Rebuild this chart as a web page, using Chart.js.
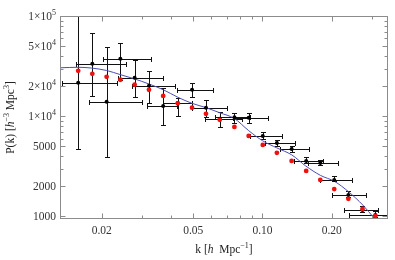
<!DOCTYPE html>
<html lang="en">
<head>
<meta charset="UTF-8">
<title>P(k)</title>
<script src="https://cdn.jsdelivr.net/npm/chart.js@4.4.1/dist/chart.umd.min.js"></script>
<style>
    body { margin: 0; background: #fff; }
</style>
</head>
<body>
<canvas id="myChart" width="395" height="260"></canvas>
<script>
    // bin centres, k in h/Mpc
    var kBins = [0.0158, 0.0182, 0.0210, 0.0241, 0.0278, 0.0321, 0.0370, 0.0428, 0.0494, 0.0568, 0.0652,
                 0.0755, 0.0871, 0.1003, 0.1155, 0.1339, 0.1549, 0.1784, 0.2051, 0.2363, 0.2722, 0.3097];
    // bin edges (horizontal error bars)
    var kLo = [0.01344, 0.01546, 0.01761, 0.02026, 0.02355, 0.02709, 0.03148, 0.03695, 0.04251, 0.0494, 0.05625,
               0.0622, 0.07448, 0.08827, 0.1026, 0.1192, 0.1371, 0.1578, 0.1779, 0.2006, 0.2262, 0.2378];
    var kHi = [0.02331, 0.02551, 0.02993, 0.03275, 0.03695, 0.04166, 0.04251, 0.0494, 0.06093, 0.0701, 0.08148,
               0.08827, 0.1057, 0.1216, 0.1385, 0.1593, 0.1833, 0.2130, 0.2451, 0.2820, 0.3180, 0.3478];

    // measured P(k) (black) with errors
    var pMeas = [21600, 33500, 14000, 37600, 24300, 20200, 12700, 13600, 18400, 12200, 9440,
                 9770, 9660, 6380, 5430, 4730, 3590, 3430, 2320, 1640, 1160, 1035];
    var pMeasHi = [130000, 68400, 49500, 54300, 36700, 28500, 19300, 15300, 21600, 14600, 11100,
                   10800, 10800, 7000, 5820, 5010, 3890, 3670, 2540, 1780, 1260, 1135];
    var pMeasLo = [4730, 16000, 3940, 23200, 15700, 13600, 8220, 10100, 15700, 9890, 7850,
                   8610, 8610, 5960, 5010, 4370, 3390, 3240, 2240, 1550, 1100, 995];

    // red points
    var pRed = [28500, 26600, 24800, 23200, 20700, 18400, 16000, 13500, 12200, 10600, 9230,
                7850, 6380, 5190, 4320, 3590, 2850, 2320, 1880, 1500, 1190, 1010];

    // model curve (blue)
    var kCurve = [0.0132, 0.0158, 0.0181, 0.0210, 0.0240, 0.0277, 0.0322, 0.0371, 0.0429, 0.0494, 0.0568, 0.0653,
                  0.0753, 0.0871, 0.1003, 0.1155, 0.1341, 0.1541, 0.1789, 0.2058, 0.2372, 0.2731, 0.3054, 0.3424];
    var pCurve = [30550, 30900, 30340, 28710, 26180, 23710, 20990, 18410, 15490, 13490, 12220, 10840,
                  9550, 7200, 5690, 4840, 4120, 3200, 2570, 2240, 1760, 1300, 966, 700];

    var xTickVals = [0.02, 0.05, 0.1, 0.2];
    var xTickLabels = ['0.02', '0.05', '0.10', '0.20'];
    var xMinorVals = [0.03, 0.04, 0.06, 0.07, 0.08, 0.09, 0.3];
    var yTickVals = [1000, 2000, 5000, 10000, 20000, 50000, 100000];
    // [mantissa, exponent] ; exponent '' means plain number
    var yTickLabels = [['1000', ''], ['2000', ''], ['5000', ''], ['1×10', '4'], ['2×10', '4'], ['5×10', '4'], ['1×10', '5']];
    var yMinorVals = [3000, 4000, 6000, 7000, 8000, 9000, 30000, 40000, 60000, 70000, 80000, 90000];

    var serif = "'Liberation Serif', 'DejaVu Serif', serif";

    function f_points(xs, ys) {
        var v_out = [];
        for (var i = 0; i < xs.length; i++) {
            v_out.push({ x: xs[i], y: ys[i] });
        }
        return v_out;
    }

    // rich text: parts = [{t, it, sup}]
    function f_font(p) {
        return (p.it ? 'italic ' : '') + (p.sup ? '8px ' : '11.5px ') + serif;
    }
    function f_richWidth(ctx, parts) {
        var w = 0;
        parts.forEach(function (p) { ctx.font = f_font(p); w += ctx.measureText(p.t).width; });
        return w;
    }
    function f_rich(ctx, parts, x, y, align) {
        var w = f_richWidth(ctx, parts);
        var cx = align === 'right' ? x - w : (align === 'center' ? x - w / 2 : x);
        ctx.textAlign = 'left';
        ctx.textBaseline = 'middle';
        parts.forEach(function (p) {
            ctx.font = f_font(p);
            ctx.fillText(p.t, cx, p.sup ? y - 4 : y);
            cx += ctx.measureText(p.t).width;
        });
    }

    // error bars under the points
    var errorBars = {
        id: 'errorBars',
        beforeDatasetsDraw: function (chart) {
            var ctx = chart.ctx;
            var xs = chart.scales.x;
            var ys = chart.scales.y;
            var a = chart.chartArea;
            var cap = 2.5;
            ctx.save();
            ctx.beginPath();
            ctx.rect(a.left, a.top, a.right - a.left, a.bottom - a.top);
            ctx.clip();
            ctx.strokeStyle = '#111';
            ctx.lineWidth = 1;
            ctx.beginPath();
            for (var i = 0; i < kBins.length; i++) {
                var px = Math.round(xs.getPixelForValue(kBins[i])) + 0.5;
                var py = Math.round(ys.getPixelForValue(pMeas[i])) + 0.5;
                var x1 = Math.round(xs.getPixelForValue(kLo[i])) + 0.5;
                var x2 = Math.round(xs.getPixelForValue(kHi[i])) + 0.5;
                var y1 = Math.round(ys.getPixelForValue(pMeasHi[i])) + 0.5;
                var y2 = Math.round(ys.getPixelForValue(pMeasLo[i])) + 0.5;
                // horizontal
                ctx.moveTo(x1, py); ctx.lineTo(x2, py);
                ctx.moveTo(x1, py - cap); ctx.lineTo(x1, py + cap);
                ctx.moveTo(x2, py - cap); ctx.lineTo(x2, py + cap);
                // vertical
                ctx.moveTo(px, y1); ctx.lineTo(px, y2);
                ctx.moveTo(px - cap, y1); ctx.lineTo(px + cap, y1);
                ctx.moveTo(px - cap, y2); ctx.lineTo(px + cap, y2);
            }
            ctx.stroke();
            ctx.restore();
        }
    };

    // frame with inward ticks on all four sides, y labels and axis titles
    var frameTicks = {
        id: 'frameTicks',
        afterDraw: function (chart) {
            var ctx = chart.ctx;
            var xs = chart.scales.x;
            var ys = chart.scales.y;
            var a = chart.chartArea;
            var L = Math.round(a.left) + 0.5, R = Math.round(a.right) - 0.5;
            var T = Math.round(a.top) + 0.5, B = Math.round(a.bottom) - 0.5;
            ctx.save();
            ctx.strokeStyle = '#8c8c8c';
            ctx.lineWidth = 1;
            ctx.strokeRect(L, T, R - L, B - T);
            ctx.beginPath();
            function xTick(v, len) {
                var p = Math.round(xs.getPixelForValue(v)) + 0.5;
                ctx.moveTo(p, B); ctx.lineTo(p, B - len);
                ctx.moveTo(p, T); ctx.lineTo(p, T + len);
            }
            function yTick(v, len) {
                var p = Math.round(ys.getPixelForValue(v)) + 0.5;
                ctx.moveTo(L, p); ctx.lineTo(L + len, p);
                ctx.moveTo(R, p); ctx.lineTo(R - len, p);
            }
            xTickVals.forEach(function (v) { xTick(v, 5); });
            xMinorVals.forEach(function (v) { xTick(v, 3); });
            yTickVals.forEach(function (v) { yTick(v, 5); });
            yMinorVals.forEach(function (v) { yTick(v, 3); });
            ctx.stroke();

            // y tick labels
            ctx.fillStyle = '#333';
            yTickVals.forEach(function (v, i) {
                var p = ys.getPixelForValue(v);
                var parts = [{ t: yTickLabels[i][0] }];
                if (yTickLabels[i][1]) parts.push({ t: yTickLabels[i][1], sup: true });
                f_rich(ctx, parts, a.left - 4, p + 0.5, 'right');
            });

            // axis titles
            ctx.fillStyle = '#222';
            f_rich(ctx, [{ t: 'k [' }, { t: 'h', it: true }, { t: '  Mpc' }, { t: '−1', sup: true }, { t: ']' }],
                (a.left + a.right) / 2, 250, 'center');
            ctx.translate(11, (a.top + a.bottom) / 2);
            ctx.rotate(-Math.PI / 2);
            f_rich(ctx, [{ t: 'P(k) [' }, { t: 'h', it: true }, { t: '−3', sup: true }, { t: ' Mpc' }, { t: '3', sup: true }, { t: ']' }],
                0, 0, 'center');
            ctx.restore();
        }
    };

    const ctx = document.getElementById('myChart').getContext('2d');
    const myChart = new Chart(ctx, {
        type: 'scatter',
        data: {
            datasets: [{
                label: 'red',
                data: f_points(kBins, pRed),
                backgroundColor: '#f01010',
                borderColor: '#f01010',
                pointRadius: 2.4,
                borderWidth: 0
            }, {
                label: 'measured',
                data: f_points(kBins, pMeas),
                backgroundColor: '#000',
                borderColor: '#000',
                pointRadius: 2,
                borderWidth: 0
            }, {
                label: 'model',
                type: 'line',
                data: f_points(kCurve, pCurve),
                borderColor: '#4a4cb4',
                borderWidth: 1,
                pointRadius: 0,
                fill: false,
                cubicInterpolationMode: 'monotone'
            }]
        },
        options: {
            responsive: false,
            animation: false,
            layout: { padding: { top: 16, right: 7, left: 0, bottom: 0 } },
            plugins: {
                legend: { display: false },
                tooltip: { enabled: false }
            },
            scales: {
                x: {
                    type: 'logarithmic',
                    min: 0.01317,
                    max: 0.3514,
                    afterBuildTicks: function (s) {
                        s.ticks = xTickVals.map(function (v) { return { value: v }; });
                    },
                    afterFit: function (s) { s.height = 41; },
                    grid: { display: false, drawTicks: false },
                    border: { display: false },
                    ticks: {
                        autoSkip: false,
                        maxRotation: 0,
                        padding: 5,
                        color: '#333',
                        font: { family: serif, size: 11.5 },
                        callback: function (v, i) { return xTickLabels[i]; }
                    }
                },
                y: {
                    type: 'logarithmic',
                    min: 944,
                    max: 100500,
                    afterBuildTicks: function (s) {
                        s.ticks = yTickVals.map(function (v) { return { value: v }; });
                    },
                    afterFit: function (s) { s.width = 60; },
                    grid: { display: false, drawTicks: false },
                    border: { display: false },
                    ticks: { display: false }
                }
            }
        },
        plugins: [errorBars, frameTicks]
    });
</script>
</body>
</html>
